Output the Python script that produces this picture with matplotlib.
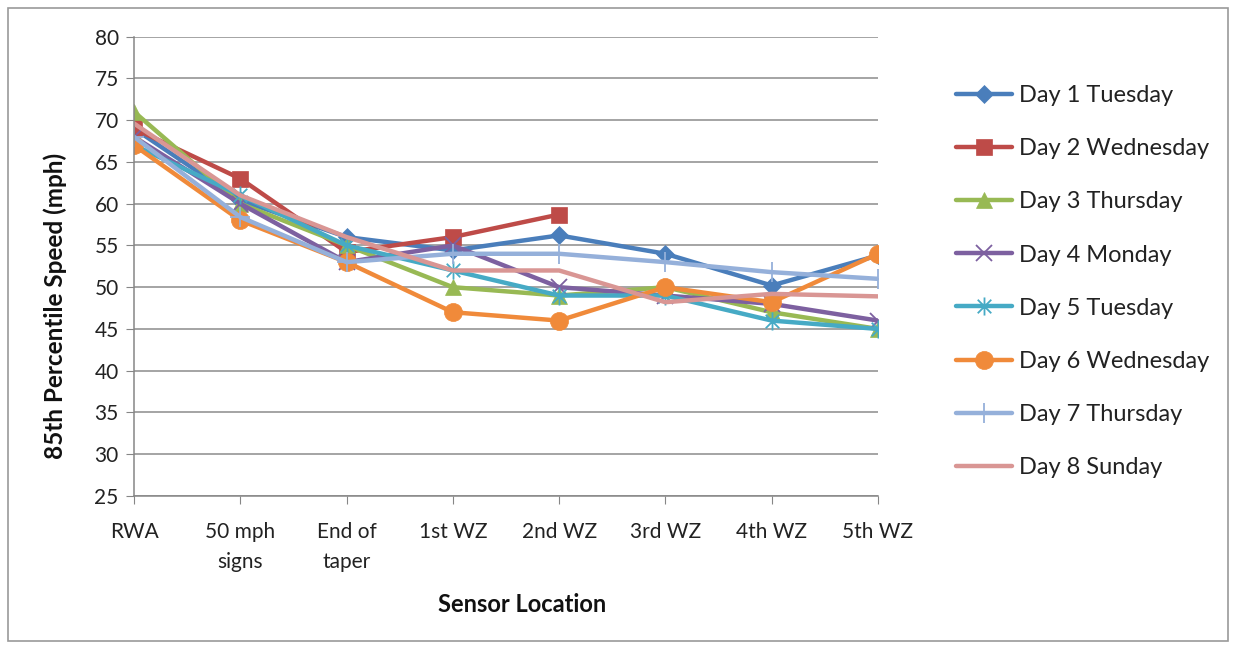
import matplotlib
matplotlib.use("Agg")
import matplotlib.pyplot as plt
from matplotlib.path import Path
from matplotlib.patches import Rectangle

plt.rcParams['font.family'] = ['Lato', 'DejaVu Sans']

categories = ["RWA", "50 mph\nsigns", "End of\ntaper", "1st WZ", "2nd WZ", "3rd WZ", "4th WZ", "5th WZ"]
series_names = ["Day 1 Tuesday", "Day 2 Wednesday", "Day 3 Thursday", "Day 4 Monday",
                "Day 5 Tuesday", "Day 6 Wednesday", "Day 7 Thursday", "Day 8 Sunday"]
day1 = [69, 60.4, 56, 54.4, 56.2, 54, 50.2, 53.8]
day2 = [69, 63, 54.2, 56, 58.7]
day3 = [71, 60, 55, 50, 49, 50, 47, 45]
day4 = [68, 60, 53, 55, 50, 49, 48, 46]
day5 = [67, 61, 55, 52, 49, 49, 46, 45]
day6 = [67, 58, 53, 47, 46, 50, 48.2, 54]
day7 = [68, 58.4, 53, 54, 54, 53, 51.8, 51]
day8 = [69.6, 61, 56, 52, 52, 48.2, 49.2, 48.9]
yticks = [25, 30, 35, 40, 45, 50, 55, 60, 65, 70, 75, 80]

all_series = [day1, day2, day3, day4, day5, day6, day7, day8]
colors = ["#4A7EBB", "#BE4B48", "#98B954", "#7D60A0", "#46AAC5", "#F08A3A", "#95B0DA", "#D99694"]

star = Path([(0, -1), (0, 1), (-0.75, -0.75), (0.75, 0.75), (-0.75, 0.75), (0.75, -0.75)],
            [Path.MOVETO, Path.LINETO, Path.MOVETO, Path.LINETO, Path.MOVETO, Path.LINETO])
markers = ["D", "s", "^", "x", star, "o", "+", None]
msizes = [9, 12, 12, 11, 13, 13, 15, 0]

W, H = 1236, 649
fig = plt.figure(figsize=(W / 100, H / 100), dpi=100)
ax = fig.add_axes([134 / W, 1 - 496 / H, (878 - 134) / W, (496 - 36.6) / H])

x = list(range(len(categories)))
for i, (vals, name) in enumerate(zip(all_series, series_names)):
    m = markers[i]
    kw = dict(color=colors[i], lw=3.2, label=name, solid_joinstyle='round', solid_capstyle='round')
    if m is not None:
        kw.update(marker=m, markersize=msizes[i], markerfacecolor=colors[i], markeredgecolor=colors[i])
        if m in ("x", "+") or m is star:
            kw.update(markeredgewidth=1.3)
        else:
            kw.update(markeredgewidth=0.5)
    ax.plot(x[:len(vals)], vals, **kw)

ax.set_xlim(0, 7)
ax.set_ylim(25, 80)
ax.set_yticks(yticks)
ax.set_xticks(x)
ax.set_xticklabels(categories, fontsize=15, color="#222222", linespacing=1.6)
ax.tick_params(axis='y', labelsize=15, labelcolor="#222222", length=6, color="#868686", pad=5)
ax.tick_params(axis='x', length=6, color="#868686", pad=13)
ax.grid(axis='y', color="#8C8C8C", lw=1.1)
ax.set_axisbelow(True)
for s in ['top', 'right']:
    ax.spines[s].set_visible(False)
for s in ['left', 'bottom']:
    ax.spines[s].set_color("#868686")
    ax.spines[s].set_linewidth(1.1)

fig.text(55 / W, 1 - 306 / H, "85th Percentile Speed (mph)", rotation=90, ha='center', va='center',
         fontsize=17.5, fontweight='bold', color="#111111")
fig.text(522 / W, 1 - 605 / H, "Sensor Location", ha='center', va='center',
         fontsize=17, fontweight='bold', color="#111111")

leg = ax.legend(loc='upper left', bbox_to_anchor=(935 / W, 1 - 64 / H), bbox_transform=fig.transFigure,
                frameon=False, fontsize=17, labelspacing=1.36, handlelength=2.35, handletextpad=0.3)
for t in leg.get_texts():
    t.set_color("#222222")

fig.patches.append(Rectangle((8 / W, 1 - 641 / H), 1220 / W, 633 / H, transform=fig.transFigure,
                             fill=False, edgecolor="#9A9A9A", lw=1.2))

fig.savefig("out.png", dpi=100, facecolor="white")
